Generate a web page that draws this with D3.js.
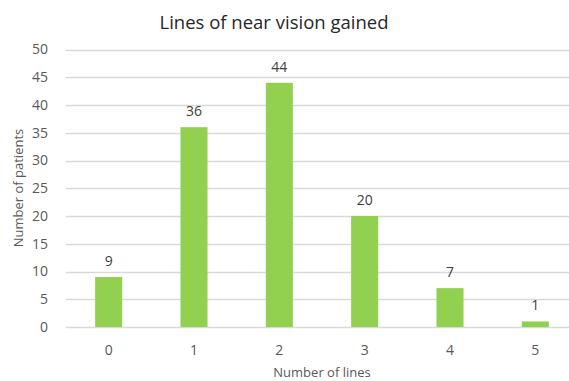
<!DOCTYPE html>
<html>
<head>
<meta charset="utf-8">
<script src="https://cdn.jsdelivr.net/npm/d3@7/dist/d3.min.js"></script>
<style>
  html, body { margin: 0; padding: 0; background: #fff; }
  svg { display: block; }
  text { font-family: "Open Sans", Lato, sans-serif; }
</style>
</head>
<body>
<svg id="chart" width="569" height="381"></svg>
<script>
// Lines of near vision gained: patient counts per number of lines
const categories = ["0", "1", "2", "3", "4", "5"];
const patients = [9, 36, 44, 20, 7, 1];
const yTicks = [0, 5, 10, 15, 20, 25, 30, 35, 40, 45, 50];

const svg = d3.select("#chart");
const W = 569, H = 381;
const plot = { left: 66, right: 578, top: 49.5, bottom: 327 };

const x = d3.scaleBand()
  .domain(categories)
  .range([plot.left, plot.right])
  .paddingInner(0.683)
  .paddingOuter(0.3415);

const y = d3.scaleLinear()
  .domain([0, 50])
  .range([plot.bottom, plot.top]);

// horizontal gridlines
svg.append("g")
  .selectAll("line")
  .data(yTicks)
  .join("line")
  .attr("x1", plot.left)
  .attr("x2", W)
  .attr("y1", d => Math.round(y(d)) + 0.5)
  .attr("y2", d => Math.round(y(d)) + 0.5)
  .attr("stroke", "#d9d9d9")
  .attr("stroke-width", 1.3);

// y tick labels
svg.append("g")
  .selectAll("text")
  .data(yTicks)
  .join("text")
  .attr("x", 48)
  .attr("y", d => y(d))
  .attr("dy", "0.35em")
  .attr("text-anchor", "end")
  .attr("font-size", 14)
  .attr("fill", "#595959")
  .text(d => d);

// bars
svg.append("g")
  .selectAll("rect")
  .data(patients)
  .join("rect")
  .attr("x", (d, i) => x(categories[i]))
  .attr("width", x.bandwidth())
  .attr("y", d => y(d))
  .attr("height", d => y(0) - y(d))
  .attr("fill", "#92d050");

// value labels
svg.append("g")
  .selectAll("text")
  .data(patients)
  .join("text")
  .attr("x", (d, i) => x(categories[i]) + x.bandwidth() / 2)
  .attr("y", d => y(d) - 16)
  .attr("dy", "0.35em")
  .attr("text-anchor", "middle")
  .attr("font-size", 14)
  .attr("fill", "#404040")
  .text(d => d);

// x tick labels
svg.append("g")
  .selectAll("text")
  .data(categories)
  .join("text")
  .attr("x", d => x(d) + x.bandwidth() / 2)
  .attr("y", 350)
  .attr("dy", "0.35em")
  .attr("text-anchor", "middle")
  .attr("font-size", 14)
  .attr("fill", "#595959")
  .text(d => d);

// title
svg.append("text")
  .attr("x", 274)
  .attr("y", 23)
  .attr("dy", "0.35em")
  .attr("text-anchor", "middle")
  .attr("font-size", 18.5)
  .attr("fill", "#262626")
  .text("Lines of near vision gained");

// axis titles
svg.append("text")
  .attr("x", 322)
  .attr("y", 377)
  .attr("text-anchor", "middle")
  .attr("font-size", 13)
  .attr("fill", "#595959")
  .text("Number of lines");

svg.append("text")
  .attr("transform", "translate(18,188) rotate(-90)")
  .attr("dy", "0.35em")
  .attr("text-anchor", "middle")
  .attr("font-size", 13)
  .attr("fill", "#595959")
  .text("Number of patients");
</script>
</body>
</html>
